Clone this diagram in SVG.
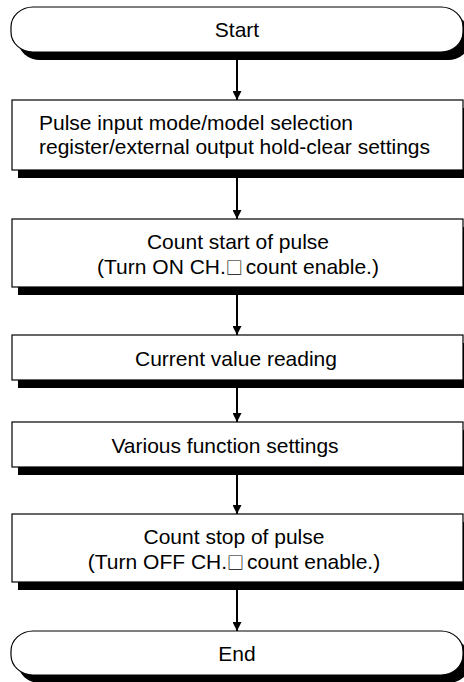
<svg xmlns="http://www.w3.org/2000/svg" width="464" height="682" viewBox="0 0 464 682">
<style>
.box{fill:#fff;stroke:#000;stroke-width:1.2}
.sh{fill:#000}
.t{font-family:"Liberation Sans","DejaVu Sans",Arial,sans-serif;font-size:21px;fill:#000}
.c{text-anchor:middle}
.sq{font-family:"Noto Sans CJK JP","DejaVu Sans",sans-serif;font-size:17px}
.ln{stroke:#000;stroke-width:2;fill:none}
</style>
<defs>
<marker id="ah" viewBox="0 0 10 10" refX="10" refY="5" markerWidth="9" markerHeight="9" markerUnits="userSpaceOnUse" orient="auto">
<path d="M0,0 L10,5 L0,10 z" fill="#000"/>
</marker>
</defs>
<rect width="464" height="682" fill="#fff"/>
<g id="start">
<rect class="sh" x="18" y="15" width="452" height="45" rx="22" ry="20"/>
<rect class="box" x="11" y="7" width="452" height="45" rx="22" ry="20"/>
<text class="t c" x="237" y="37">Start</text>
</g>
<g id="settings">
<rect class="sh" x="18" y="108" width="451" height="70"/>
<rect class="box" x="12" y="100" width="451" height="70"/>
<text class="t" x="39" y="130">Pulse input mode/model selection</text>
<text class="t" x="39" y="154">register/external output hold-clear settings</text>
</g>
<g id="countstart">
<rect class="sh" x="18" y="227" width="451" height="68"/>
<rect class="box" x="12" y="219" width="451" height="68"/>
<text class="t c" x="238" y="249">Count start of pulse</text>
<text class="t c" x="238" y="274">(Turn ON CH.<tspan class="sq">□</tspan><tspan dx="3">count enable.)</tspan></text>
</g>
<g id="reading">
<rect class="sh" x="18" y="343" width="451" height="45"/>
<rect class="box" x="12" y="335" width="451" height="45"/>
<text class="t c" x="236" y="366">Current value reading</text>
</g>
<g id="various">
<rect class="sh" x="18" y="430" width="451" height="45"/>
<rect class="box" x="12" y="422" width="451" height="45"/>
<text class="t c" x="225" y="453">Various function settings</text>
</g>
<g id="countstop">
<rect class="sh" x="18" y="522" width="451" height="68"/>
<rect class="box" x="12" y="514" width="451" height="68"/>
<text class="t c" x="234" y="544">Count stop of pulse</text>
<text class="t c" x="234" y="569">(Turn OFF CH.<tspan class="sq">□</tspan><tspan dx="3">count enable.)</tspan></text>
</g>
<g id="end">
<rect class="sh" x="18" y="639" width="452" height="44" rx="22" ry="20"/>
<rect class="box" x="11" y="631" width="452" height="44" rx="22" ry="20"/>
<text class="t c" x="237" y="661">End</text>
</g>
<g id="connectors">
<line class="ln" x1="237" y1="60" x2="237" y2="100" marker-end="url(#ah)"/>
<line class="ln" x1="237" y1="178" x2="237" y2="219" marker-end="url(#ah)"/>
<line class="ln" x1="237" y1="295" x2="237" y2="335" marker-end="url(#ah)"/>
<line class="ln" x1="237" y1="388" x2="237" y2="422" marker-end="url(#ah)"/>
<line class="ln" x1="237" y1="475" x2="237" y2="514" marker-end="url(#ah)"/>
<line class="ln" x1="237" y1="590" x2="237" y2="631" marker-end="url(#ah)"/>
</g>
</svg>
